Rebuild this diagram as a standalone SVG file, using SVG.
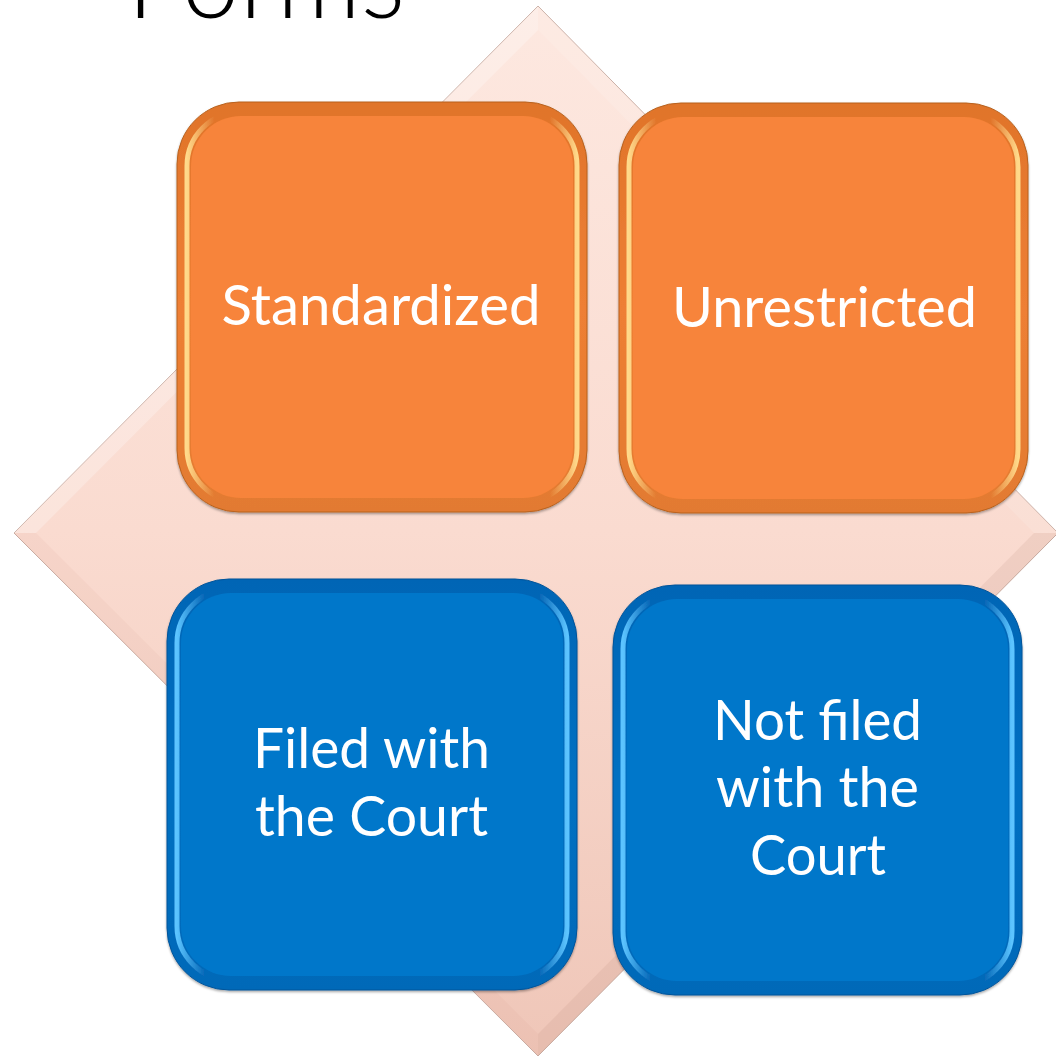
<svg xmlns="http://www.w3.org/2000/svg" width="1056" height="1057" viewBox="0 0 1056 1057">
<defs>
<linearGradient id="dg" x1="0" y1="0" x2="0" y2="1">
<stop offset="0" stop-color="#FDE8E0"/><stop offset="0.5" stop-color="#FADBD0"/><stop offset="1" stop-color="#EFC6B8"/>
</linearGradient>
<linearGradient id="rimO" x1="0" y1="0" x2="0" y2="1">
<stop offset="0" stop-color="#E0742A"/><stop offset="0.5" stop-color="#EE7F34"/><stop offset="1" stop-color="#E27A30"/>
</linearGradient>
<linearGradient id="rimB" x1="0" y1="0" x2="0" y2="1">
<stop offset="0" stop-color="#0565B5"/><stop offset="0.5" stop-color="#0670C2"/><stop offset="1" stop-color="#0669B8"/>
</linearGradient>
<linearGradient id="hlO" x1="0" y1="0" x2="1" y2="0">
<stop offset="0" stop-color="#FFD98A" stop-opacity="1"/><stop offset="0.07" stop-color="#FFD98A" stop-opacity="0"/><stop offset="0.93" stop-color="#FFD98A" stop-opacity="0"/><stop offset="1" stop-color="#FFD98A" stop-opacity="1"/>
</linearGradient>
<linearGradient id="hlB" x1="0" y1="0" x2="1" y2="0">
<stop offset="0" stop-color="#5CC4FF" stop-opacity="1"/><stop offset="0.07" stop-color="#5CC4FF" stop-opacity="0"/><stop offset="0.93" stop-color="#5CC4FF" stop-opacity="0"/><stop offset="1" stop-color="#5CC4FF" stop-opacity="1"/>
</linearGradient>
<filter id="sh" x="-5%" y="-5%" width="110%" height="110%">
<feDropShadow dx="0" dy="1.5" stdDeviation="1.2" flood-color="#000" flood-opacity="0.35"/>
</filter>
</defs>
<style>
.lbl{font-family:Lato,"Open Sans","Liberation Sans",sans-serif;font-size:56px;fill:#FFFFFF;text-anchor:middle}
.title{font-family:Lato,"Open Sans","Liberation Sans",sans-serif;font-weight:300;font-size:110px;fill:#000000}
.rimO{fill:url(#rimO);stroke:#B8621F;stroke-width:1}
.rimB{fill:url(#rimB);stroke:#05549A;stroke-width:1}
.hlO{fill:none;stroke:url(#hlO);stroke-width:5}
.hlB{fill:none;stroke:url(#hlB);stroke-width:5}
.faceO{fill:#F7843A}
.faceB{fill:#0477CA}
</style>
<rect width="1056" height="1057" fill="#FFFFFF"/>
<text class="title" x="127" y="18" textLength="278" lengthAdjust="spacingAndGlyphs">Forms</text>
<g id="diamond">
<polygon points="538,6 1058,533 538,1056 14,533" fill="url(#dg)" stroke="#C9ADA3" stroke-width="1"/>
<polygon points="538,6 538,30 36,533 14,533" fill="#FFFFFF" opacity="0.25"/>
<polygon points="538,6 1058,533 1034,533 538,30" fill="#FFFFFF" opacity="0.12"/>
<polygon points="14,533 36,533 538,1034 538,1056" fill="#C89080" opacity="0.08"/>
<polygon points="1058,533 538,1056 538,1034 1034,533" fill="#B07868" opacity="0.12"/>
</g>
<g id="connectors"></g>
<g id="node-standardized" filter="url(#sh)">
<rect class="rimO" x="177" y="102" width="410" height="410" rx="62"/>
<rect class="hlO" x="187" y="112" width="390" height="390" rx="54"/>
<rect class="faceO" x="191" y="116" width="382" height="382" rx="50"/>
<text class="lbl" x="381" y="325" textLength="319" lengthAdjust="spacingAndGlyphs">Standardized</text>
</g>
<g id="node-unrestricted" filter="url(#sh)">
<rect class="rimO" x="619" y="103" width="409" height="410" rx="62"/>
<rect class="hlO" x="629" y="113" width="389" height="390" rx="54"/>
<rect class="faceO" x="633" y="117" width="381" height="382" rx="50"/>
<text class="lbl" x="824.5" y="327" textLength="305" lengthAdjust="spacingAndGlyphs">Unrestricted</text>
</g>
<g id="node-filed" filter="url(#sh)">
<rect class="rimB" x="167" y="579" width="410" height="411" rx="62"/>
<rect class="hlB" x="177" y="589" width="390" height="391" rx="54"/>
<rect class="faceB" x="181" y="593" width="382" height="383" rx="50"/>
<text class="lbl" x="371.5" y="768" textLength="237" lengthAdjust="spacingAndGlyphs">Filed with</text>
<text class="lbl" x="371.5" y="836" textLength="233" lengthAdjust="spacingAndGlyphs">the Court</text>
</g>
<g id="node-notfiled" filter="url(#sh)">
<rect class="rimB" x="613" y="585" width="409" height="410" rx="62"/>
<rect class="hlB" x="623" y="595" width="389" height="390" rx="54"/>
<rect class="faceB" x="627" y="599" width="381" height="382" rx="50"/>
<text class="lbl" x="817.5" y="740" textLength="209" lengthAdjust="spacingAndGlyphs">Not filed</text>
<text class="lbl" x="817.5" y="807" textLength="203" lengthAdjust="spacingAndGlyphs">with the</text>
<text class="lbl" x="818" y="875" textLength="136" lengthAdjust="spacingAndGlyphs">Court</text>
</g>
</svg>
